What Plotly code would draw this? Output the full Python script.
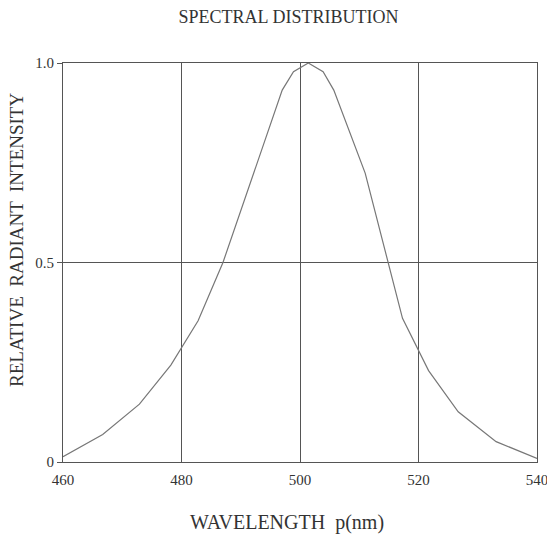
import plotly.graph_objects as go

wavelength = [460, 466.7, 472.9, 478.2, 482.8, 487.0, 497.0, 498.9, 501.4,
              503.9, 505.7, 511.0, 517.3, 521.7, 526.7, 533.1, 540]
intensity = [0.013, 0.069, 0.145, 0.243, 0.354, 0.50, 0.932, 0.978, 1.0,
             0.978, 0.932, 0.724, 0.36, 0.229, 0.126, 0.051, 0.009]

x_ticks = [460, 480, 500, 520, 540]
y_ticks = [0, 0.5, 1.0]
y_tick_labels = ["0", "0.5", "1.0"]

FONT = "Liberation Serif, DejaVu Serif, serif"
TXT = "#333333"
GRID = "#555555"

W, H = 547, 537
L, R, T, B = 63, 10, 63, 75
PW, PH = W - L - R, H - T - B


def px_x(p):
    return (p - L) / PW


def px_y(p):
    return (H - B - p) / PH


fig = go.Figure()
fig.add_trace(go.Scatter(
    x=wavelength, y=intensity, mode="lines",
    line=dict(color="#777777", width=1.2),
    hoverinfo="skip", showlegend=False,
))

fig.update_layout(
    width=W, height=H,
    margin=dict(l=L, r=R, t=T, b=B, autoexpand=False),
    paper_bgcolor="white", plot_bgcolor="white",
    font=dict(family=FONT, color=TXT, size=15),
    title=dict(text="SPECTRAL DISTRIBUTION", x=288.5 / W, xref="container",
               xanchor="center", y=1 - 17 / H, yanchor="middle",
               font=dict(family=FONT, size=18, color=TXT)),
    xaxis=dict(
        range=[460, 540], tickvals=x_ticks, ticktext=[str(v) for v in x_ticks],
        showgrid=True, gridcolor=GRID, gridwidth=1,
        showline=True, linecolor=GRID, linewidth=1, mirror=True,
        zeroline=False, ticks="outside", ticklen=4, automargin=False,
        tickcolor="rgba(0,0,0,0)", ticklabeloverflow="allow",
        tickfont=dict(size=15, color=TXT),
    ),
    yaxis=dict(
        range=[0, 1], tickvals=y_ticks, ticktext=y_tick_labels,
        showgrid=True, gridcolor=GRID, gridwidth=1,
        showline=True, linecolor=GRID, linewidth=1, mirror=True,
        zeroline=False, ticks="outside", ticklen=5, tickcolor=GRID,
        automargin=False,
        tickfont=dict(size=15, color=TXT),
    ),
    annotations=[
        dict(text="WAVELENGTH  p(nm)", xref="paper", yref="paper",
             x=px_x(287), y=px_y(522.5), xanchor="center", yanchor="middle",
             showarrow=False, font=dict(family=FONT, size=20, color=TXT)),
        dict(text="RELATIVE  RADIANT  INTENSITY", xref="paper", yref="paper",
             x=px_x(16), y=px_y(240), xanchor="center", yanchor="middle",
             textangle=-90, showarrow=False,
             font=dict(family=FONT, size=19, color=TXT)),
    ],
)

fig.write_html(
    "out.html",
    config={"displayModeBar": False},
    post_script="document.body.style.margin='0';"
                "document.body.style.overflow='hidden';",
)
